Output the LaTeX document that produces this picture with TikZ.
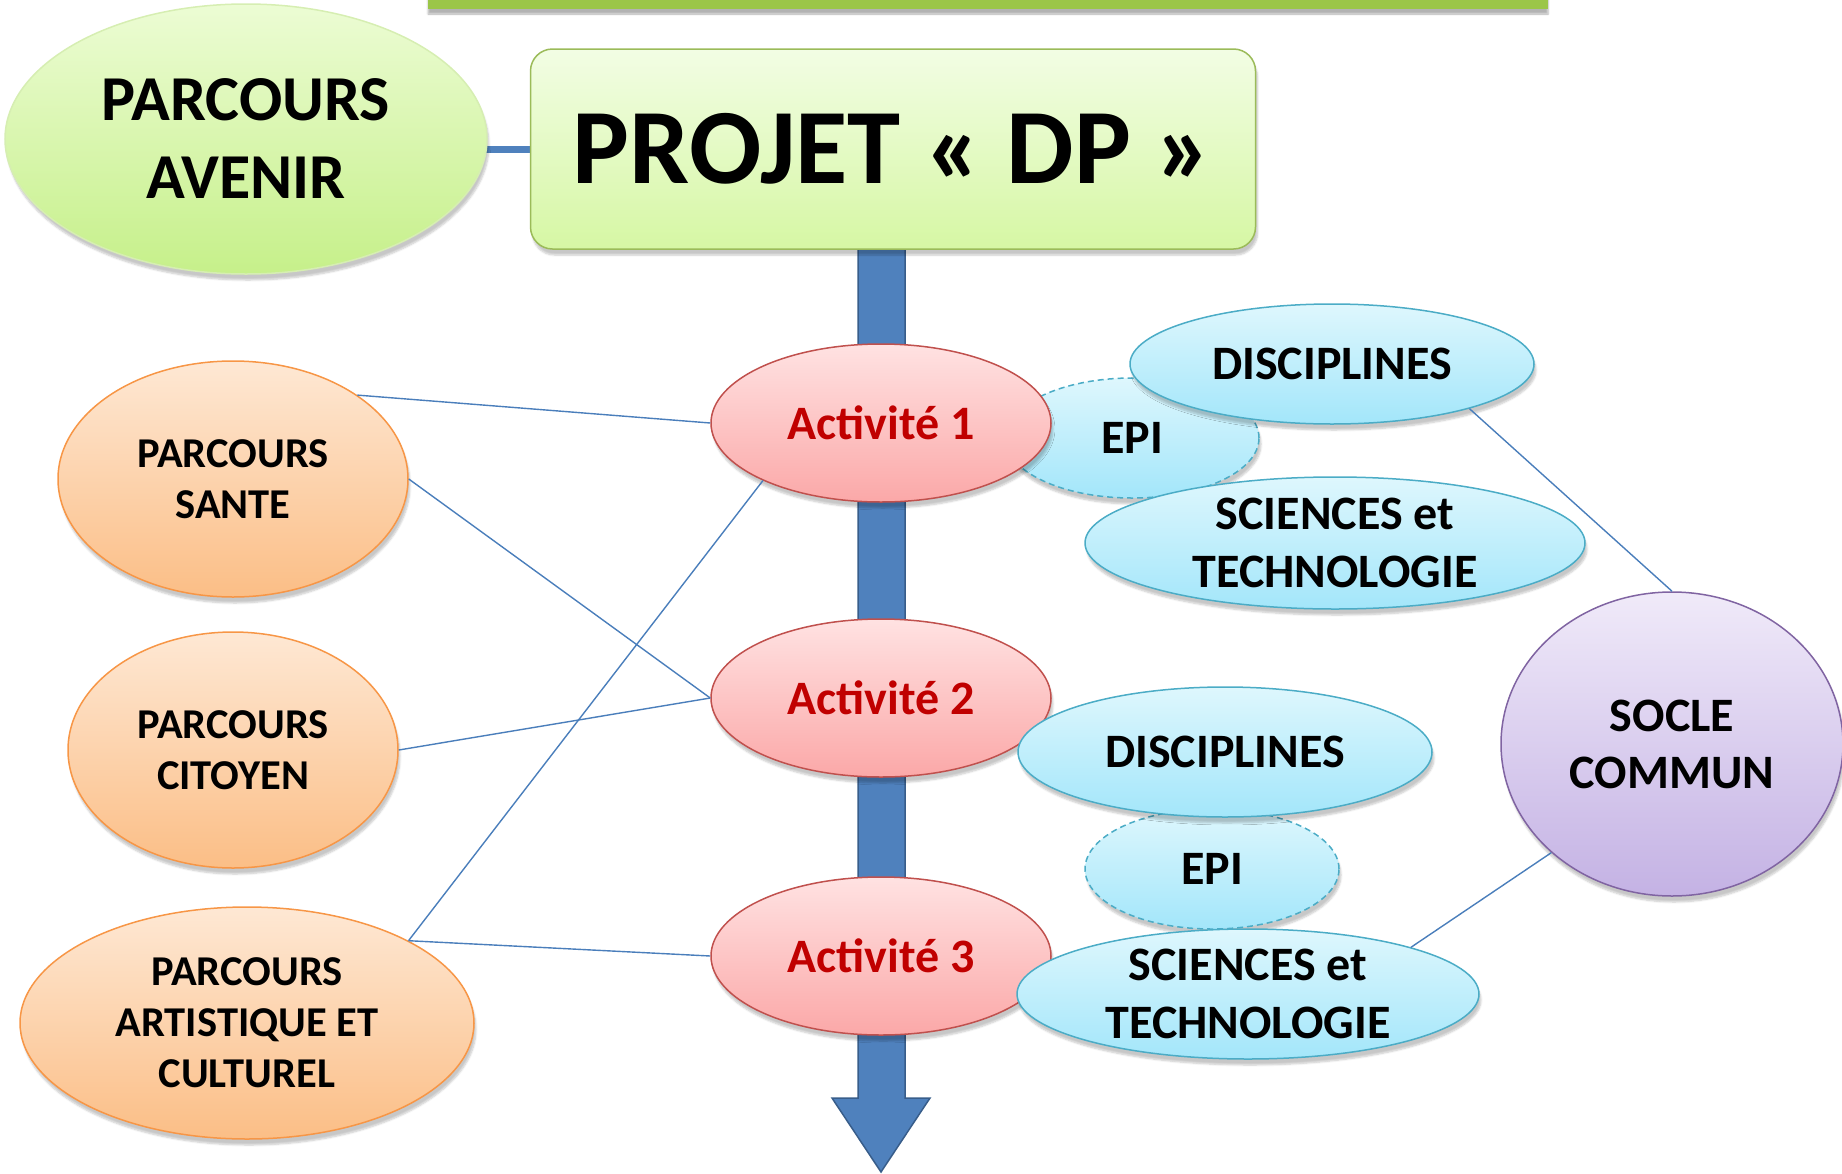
\documentclass[tikz,border=0pt]{standalone}
\usepackage{fontspec}
\setmainfont{Carlito}
\usepackage{xcolor}
\usepackage{tikz}
\usetikzlibrary{shapes.geometric,shadows.blur}

\definecolor{barvert}{RGB}{155,198,72}
\definecolor{fleche}{RGB}{79,129,189}
\definecolor{flechebord}{RGB}{56,93,138}
\definecolor{lien}{RGB}{74,126,187}
\definecolor{rougetexte}{RGB}{192,0,0}

\begin{document}
\begin{tikzpicture}[x=1pt,y=1pt,yscale=-1,xscale=1,
    ombre/.style={blur shadow={shadow xshift=2pt,shadow yshift=-6pt,shadow blur steps=6,shadow opacity=22}},
    bulle/.style={ellipse,inner sep=0pt,align=center,font=\bfseries,line width=1.5pt,ombre},
    vert/.style={bulle,draw={rgb,255:red,214;green,238;blue,178},top color={rgb,255:red,236;green,252;blue,212},bottom color={rgb,255:red,198;green,240;blue,138},
        font=\bfseries\fontsize{64}{78}\selectfont},
    rouge/.style={bulle,draw={rgb,255:red,192;green,80;blue,77},top color={rgb,255:red,255;green,226;blue,226},bottom color={rgb,255:red,251;green,168;blue,168},
        minimum width=340pt,minimum height=158pt,text=rougetexte,font=\bfseries\fontsize{48}{58}\selectfont},
    orange/.style={bulle,draw={rgb,255:red,247;green,150;blue,70},top color={rgb,255:red,254;green,232;blue,212},bottom color={rgb,255:red,251;green,190;blue,134},
        font=\bfseries\fontsize{42.5}{51}\selectfont},
    bleu/.style={bulle,draw={rgb,255:red,75;green,172;blue,198},top color={rgb,255:red,222;green,247;blue,253},bottom color={rgb,255:red,163;green,230;blue,250},
        font=\bfseries\fontsize{48}{58}\selectfont},
    epi/.style={bleu,dash pattern=on 6pt off 4pt},
    violet/.style={bulle,draw={rgb,255:red,128;green,100;blue,162},top color={rgb,255:red,240;green,234;blue,249},bottom color={rgb,255:red,196;green,178;blue,228},
        font=\bfseries\fontsize{48}{57}\selectfont},
    trait/.style={draw=lien,line width=1.4pt}]

\useasboundingbox (0,0) rectangle (1842,1173);

% bandeau du haut
\fill[barvert,blur shadow={shadow xshift=0pt,shadow yshift=-5pt,shadow blur steps=5,shadow opacity=30}] (428,-20) rectangle (1548,9);

% lien avenir - projet et grande fleche
\coordinate (pointe) at (881,1172);
\draw[fleche,line width=7pt] (531,149) -- (480,149);
\filldraw[fill=fleche,draw=flechebord,line width=1.5pt] (858,245) -- (858,1098) -- (832,1098) -- (pointe) -- (930,1098) -- (905,1098) -- (905,245);

\node[vert,minimum width=482pt,minimum height=270pt] (avenir) at (246,139) {PARCOURS\\AVENIR};
\node[rounded corners=22pt,draw={rgb,255:red,155;green,187;blue,89},line width=1.5pt,top color={rgb,255:red,242;green,253;blue,228},bottom color={rgb,255:red,214;green,247;blue,164},
    minimum width=725pt,minimum height=200pt,font=\bfseries\fontsize{107}{120}\selectfont,ombre] (projet) at (893,149) {PROJET « DP »};

% parcours
\node[orange,minimum width=350pt,minimum height=236pt] (sante) at (233,479) {PARCOURS\\SANTE};
\node[orange,minimum width=330pt,minimum height=236pt] (citoyen) at (233,750) {PARCOURS\\CITOYEN};
\node[orange,minimum width=454pt,minimum height=232pt] (artistique) at (247,1023) {PARCOURS\\ARTISTIQUE ET\\CULTUREL};

% activites
\node[epi,minimum width=254pt,minimum height=120pt] (epi1) at (1132,438) {EPI};
\node[epi,minimum width=254pt,minimum height=120pt] (epi2) at (1212,869) {EPI};
\node[rouge] (act1) at (881,423) {Activité 1};
\node[rouge] (act2) at (881,698) {Activité 2};
\node[rouge] (act3) at (881,956) {Activité 3};
\node[bleu,minimum width=404pt,minimum height=120pt] (disc1) at (1332,364) {DISCIPLINES};
\node[bleu,minimum width=500pt,minimum height=132pt] (sci1) at (1335,543) {SCIENCES et\\TECHNOLOGIE};
\node[bleu,minimum width=414pt,minimum height=130pt] (disc2) at (1225,752) {DISCIPLINES};
\node[bleu,minimum width=462pt,minimum height=130pt] (sci2) at (1248,994) {SCIENCES et\\TECHNOLOGIE};
\node[violet,minimum width=342pt,minimum height=304pt] (socle) at (1672,744) {SOCLE\\COMMUN};

% liens
\draw[trait] (sante.34) -- (act1.west);
\draw[trait] (sante.east) -- (act2.west);
\draw[trait] (citoyen.east) -- (act2.west);
\draw[trait] (artistique.27) -- (act1.206);
\draw[trait] (artistique.27) -- (act3.west);
\draw[trait] (disc1.-18) -- (socle.north);
\draw[trait] (sci2.16) -- (socle.222);
\end{tikzpicture}
\end{document}
